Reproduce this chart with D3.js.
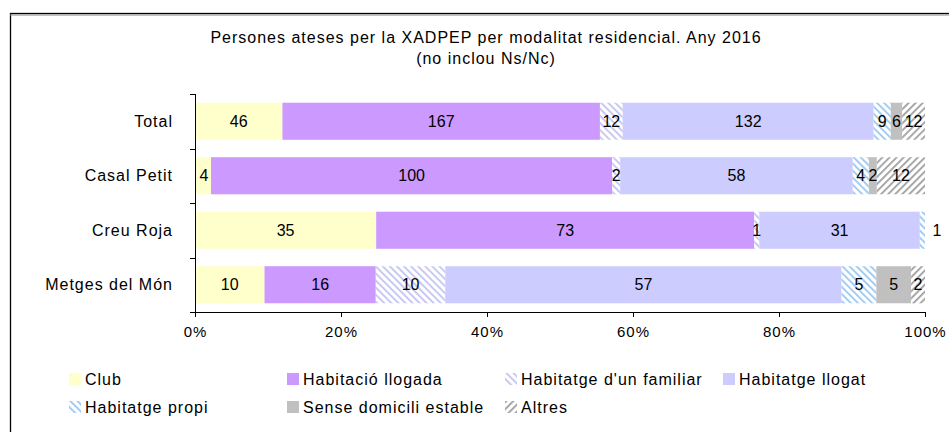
<!DOCTYPE html>
<html>
<head>
<meta charset="utf-8">
<script src="https://cdn.jsdelivr.net/npm/d3@7"></script>
<style>
body { margin: 0; background: #fff; }
text { font-family: "Liberation Sans", Arial, sans-serif; fill: #000; letter-spacing: 1px; }
.axis path, .axis line { stroke: #000; shape-rendering: crispEdges; }
.axis text { font-size: 15px; }
.lbl { letter-spacing: 0; font-size: 16px; }
</style>
</head>
<body>
<script>
// Data
var categories = ["Total", "Casal Petit", "Creu Roja", "Metges del Món"];
var seriesNames = ["Club", "Habitació llogada", "Habitatge d'un familiar", "Habitatge llogat",
	"Habitatge propi", "Sense domicili estable", "Altres"];
var club = [46, 4, 35, 10];
var habitacio = [167, 100, 73, 16];
var familiar = [12, 2, 1, 10];
var llogat = [132, 58, 31, 57];
var propi = [9, 4, 1, 5];
var sense = [6, 2, 0, 5];
var altres = [12, 12, 0, 2];
var xTicks = [0, 0.2, 0.4, 0.6, 0.8, 1];

var seriesValues = [club, habitacio, familiar, llogat, propi, sense, altres];

var width = 949, height = 432;
var margin = { top: 94, left: 195, right: 24, bottom: 120 };
var plotW = 925 - margin.left, plotH = 312 - margin.top;

var svg = d3.select("body").append("svg").attr("width", width).attr("height", height);

// patterns
var defs = svg.append("defs");
function stripe(id, color, dir) {
	var p = defs.append("pattern").attr("id", id).attr("patternUnits", "userSpaceOnUse")
		.attr("width", 5).attr("height", 5)
		.attr("patternTransform", "rotate(" + dir + ")");
	p.append("rect").attr("width", 5).attr("height", 5).attr("fill", "#fff");
	p.append("rect").attr("width", 1.8).attr("height", 5).attr("fill", color);
}
stripe("pFam", "#c4c4f2", -45);
stripe("pPropi", "#99c8f2", -45);
stripe("pAltres", "#a0a0a0", 45);

var fills = ["#ffffcc", "#cc99ff", "url(#pFam)", "#ccccff", "url(#pPropi)", "#c0c0c0", "url(#pAltres)"];

// frame
svg.append("rect").attr("x", 10.5).attr("y", 13.5).attr("width", 960).attr("height", 440)
	.attr("fill", "none").attr("stroke", "#000").attr("stroke-width", 1.3);
svg.append("line").attr("x1", 10).attr("x2", 949).attr("y1", 15).attr("y2", 15)
	.attr("stroke", "#888").attr("stroke-width", 1);

// title
svg.append("text").attr("x", 486).attr("y", 43).attr("text-anchor", "middle")
	.style("font-size", "16px").text("Persones ateses per la XADPEP per modalitat residencial. Any 2016");
svg.append("text").attr("x", 486).attr("y", 64).attr("text-anchor", "middle")
	.style("font-size", "16px").text("(no inclou Ns/Nc)");

var g = svg.append("g").attr("transform", "translate(" + margin.left + "," + margin.top + ")");

var x = d3.scaleLinear().domain([0, 1]).range([0, plotW]);
var y = d3.scaleBand().domain(categories).range([0, plotH]).paddingInner(0.32).paddingOuter(0.16);
var yTick = d3.scaleLinear().domain([0, categories.length]).range([0, plotH]);

// stacked data
var rows = categories.map(function(c, i) {
	var total = d3.sum(seriesValues, function(s) { return s[i]; });
	var acc = 0;
	return seriesValues.map(function(s, k) {
		var seg = { cat: c, k: k, v: s[i], x0: acc / total, x1: (acc + s[i]) / total, last: false };
		acc += s[i];
		return seg;
	});
});
rows.forEach(function(r) {
	var nz = r.filter(function(d) { return d.v > 0; });
	nz[nz.length - 1].last = true;
});

var row = g.selectAll(".row").data(rows).enter().append("g").attr("class", "row");

row.selectAll("rect").data(function(d) { return d; }).enter().append("rect")
	.attr("x", function(d) { return x(d.x0); })
	.attr("y", function(d) { return y(d.cat); })
	.attr("width", function(d) { return x(d.x1) - x(d.x0); })
	.attr("height", y.bandwidth())
	.attr("fill", function(d) { return fills[d.k]; });

row.selectAll("text").data(function(d) { return d.filter(function(s) { return s.v > 0; }); })
	.enter().append("text").attr("class", "lbl")
	.attr("x", function(d) {
		var w = x(d.x1) - x(d.x0);
		if (d.last && w < 8) return x(d.x1) + 12;
		return Math.max((x(d.x0) + x(d.x1)) / 2, 9);
	})
	.attr("y", function(d) { return y(d.cat) + y.bandwidth() / 2; })
	.attr("dy", "0.35em").attr("text-anchor", "middle")
	.text(function(d) { return d.v; });

// axes
g.append("g").attr("class", "axis")
	.call(d3.axisLeft(yTick).tickValues(d3.range(categories.length + 1)).tickSize(5).tickFormat(""))
	.select(".domain").attr("d", "M0,0V" + (plotH + 5));

g.append("g").attr("class", "axis").attr("transform", "translate(0," + plotH + ")")
	.call(d3.axisBottom(x).tickValues(xTicks).tickSize(5).tickSizeOuter(0).tickPadding(9)
		.tickFormat(d3.format(".0%")));

g.selectAll(".cat").data(categories).enter().append("text")
	.attr("x", -22).attr("y", function(d) { return y(d) + y.bandwidth() / 2; })
	.attr("dy", "0.35em").attr("text-anchor", "end").style("font-size", "16px")
	.text(function(d) { return d; });

// legend
var legend = svg.selectAll(".legend").data(seriesNames).enter().append("g")
	.attr("class", "legend").attr("transform", function(d, i) {
		return "translate(" + (69 + (i % 4) * 218) + "," + (373 + Math.floor(i / 4) * 28) + ")";
	});
legend.append("rect").attr("width", 12).attr("height", 12)
	.attr("fill", function(d, i) { return fills[i]; });
legend.append("text").attr("x", 16).attr("y", 6).attr("dy", "0.35em")
	.style("font-size", "16px").text(function(d) { return d; });
</script>
</body>
</html>
